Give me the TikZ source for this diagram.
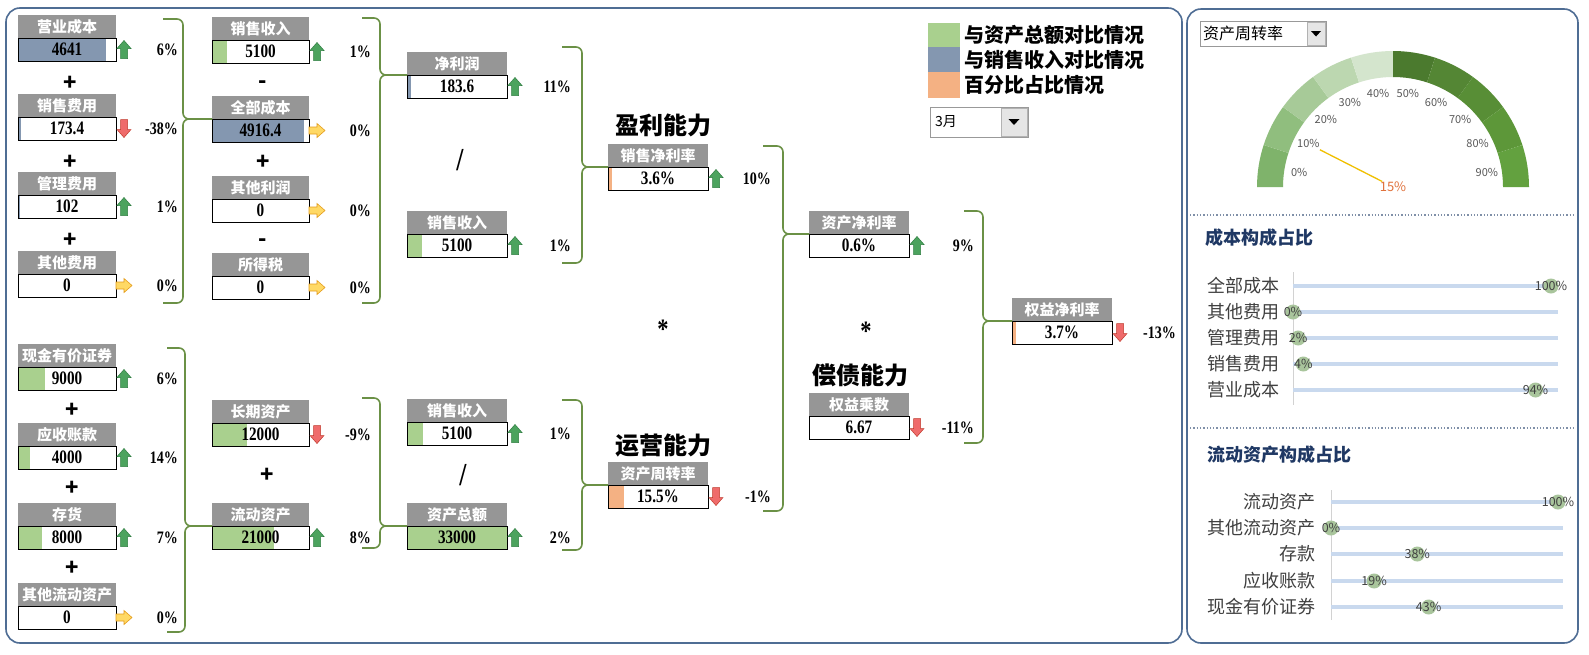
\documentclass[tikz,border=0pt]{standalone}
\usepackage{fontspec}
\newfontfamily\cjk{Noto Sans CJK SC}
\newfontfamily\numfont[FakeStretch=0.8]{Liberation Serif}
\definecolor{hdrgray}{HTML}{969696}
\definecolor{bblue}{HTML}{8497B0}
\definecolor{bgreen}{HTML}{A9D08E}
\definecolor{borange}{HTML}{F4B183}
\definecolor{brgreen}{HTML}{6B9146}
\definecolor{panel}{HTML}{4F6D94}
\definecolor{upg}{HTML}{4CA35E}
\definecolor{upd}{HTML}{2E7D40}
\definecolor{dnr}{HTML}{EF6B6B}
\definecolor{dnd}{HTML}{C0392B}
\definecolor{rty}{HTML}{FFD965}
\definecolor{rtd}{HTML}{E59C1B}
\definecolor{g0}{HTML}{7FB36B}
\definecolor{g1}{HTML}{90BE7E}
\definecolor{g2}{HTML}{A7CA98}
\definecolor{g3}{HTML}{BCD7B0}
\definecolor{g4}{HTML}{D4E5CD}
\definecolor{g5}{HTML}{4B7A2E}
\definecolor{g6}{HTML}{548634}
\definecolor{g7}{HTML}{588E36}
\definecolor{g8}{HTML}{5D9739}
\definecolor{g9}{HTML}{63A13F}
\definecolor{chline}{HTML}{C9D9EE}
\definecolor{dotc}{HTML}{A9C59C}
\definecolor{ttl}{HTML}{1F3864}
\definecolor{lbl}{HTML}{404040}
\definecolor{glbl}{HTML}{595959}
\definecolor{needlec}{HTML}{F0C000}
\definecolor{otext}{HTML}{E0703A}
\definecolor{sepc}{HTML}{8090A8}
\tikzset{
  hdr/.style={fill=hdrgray,text=white,anchor=north west,minimum height=23pt,inner sep=0pt,outer sep=0pt,font=\cjk\bfseries\fontsize{15}{15}\selectfont},
  val/.style={draw=black,line width=0.8pt,anchor=north west,minimum height=23pt,inner sep=0pt,outer sep=0pt,font=\numfont\bfseries\fontsize{19}{19}\selectfont},
  pct/.style={inner sep=0pt,font=\numfont\bfseries\fontsize{17.5}{17.5}\selectfont},
  optxt/.style={inner sep=0pt,font=\cjk\bfseries\fontsize{22}{22}\selectfont},
  slash/.style={inner sep=0pt,font=\numfont\bfseries\fontsize{32}{32}\selectfont},
  astx/.style={inner sep=0pt,font=\numfont\bfseries\fontsize{28}{28}\selectfont},
  captxt/.style={inner sep=0pt,font=\cjk\bfseries\fontsize{24}{24}\selectfont},
  legtxt/.style={inner sep=0pt,anchor=west,font=\cjk\bfseries\fontsize{20}{20}\selectfont},
  brace/.style={draw=brgreen,line width=1.6pt,rounded corners=6pt},
  panelbox/.style={draw=panel,line width=1.6pt,rounded corners=14pt},
  sepline/.style={draw=sepc,line width=1.3pt,dotted},
  ctitle/.style={inner sep=0pt,anchor=west,text=ttl,font=\cjk\bfseries\fontsize{18}{18}\selectfont},
  clabel/.style={inner sep=0pt,anchor=east,text=lbl,font=\cjk\fontsize{18}{18}\selectfont},
  cline/.style={draw=chline,line width=3.5pt},
  cdot/.style={fill=dotc},
  cdtxt/.style={inner sep=0pt,text=lbl,font=\cjk\fontsize{12.5}{12.5}\selectfont},
  gtxt/.style={inner sep=0pt,text=glbl,font=\cjk\fontsize{11}{11}\selectfont},
  upar/.pic={\draw[fill=upg,draw=upd,line width=0.5pt] (0,-9) -- (7,-1) -- (3.5,-1) -- (3.5,9) -- (-3.5,9) -- (-3.5,-1) -- (-7,-1) -- cycle;},
  dnar/.pic={\draw[fill=dnr,draw=dnd,line width=0.5pt] (0,9) -- (7,1) -- (3.5,1) -- (3.5,-9) -- (-3.5,-9) -- (-3.5,1) -- (-7,1) -- cycle;},
  rtar/.pic={\draw[fill=rty,draw=rtd,line width=0.6pt] (8,0) -- (0,-7) -- (0,-3.5) -- (-8,-3.5) -- (-8,3.5) -- (0,3.5) -- (0,7) -- cycle;}
}
% name, x, y, width, title, value, bar width, bar colour
\newcommand\kbox[8]{%
  \fill[#8] ({#2},{#3+23}) rectangle ({#2+#7},{#3+46});
  \node[hdr,minimum width=#4pt] (#1h) at (#2,#3) {#5};
  \node[val,minimum width=#4pt] (#1v) at (#1h.south west) {#6};
}
% name, arrow pic, percent, right edge x
\newcommand\kind[4]{%
  \pic at ([xshift=8pt]#1v.east) {#2};
  \node[pct,anchor=east] (#1p) at (#4,0 |- #1v.east) {#3};
}
\begin{document}
\begin{tikzpicture}[x=1pt,y=-1pt]
\useasboundingbox (0,0) rectangle (1589,654);
\fill[white] (0,0) rectangle (1589,654);
\draw[panelbox] (6,8) rectangle (1182,643);
\draw[panelbox] (1187,9) rectangle (1578,643);

% column 1
\kbox{a1}{18}{15}{98}{营业成本}{4641}{88}{bblue}
\kind{a1}{upar}{6\%}{178}
\kbox{a2}{18}{94}{98}{销售费用}{173.4}{3.3}{bblue}
\kind{a2}{dnar}{-38\%}{178}
\kbox{a3}{18}{172}{98}{管理费用}{102}{2}{bblue}
\kind{a3}{upar}{1\%}{178}
\kbox{a4}{18}{251}{98}{其他费用}{0}{0}{white}
\kind{a4}{rtar}{0\%}{178}
\kbox{a5}{18}{344}{98}{现金有价证券}{9000}{27}{bgreen}
\kind{a5}{upar}{6\%}{178}
\kbox{a6}{18}{423}{98}{应收账款}{4000}{12}{bgreen}
\kind{a6}{upar}{14\%}{178}
\kbox{a7}{18}{503}{98}{存货}{8000}{24}{bgreen}
\kind{a7}{upar}{7\%}{178}
\kbox{a8}{18}{583}{98}{其他流动资产}{0}{0}{white}
\kind{a8}{rtar}{0\%}{178}

% column 2
\kbox{b1}{212}{17}{97}{销售收入}{5100}{15}{bgreen}
\kind{b1}{upar}{1\%}{371}
\kbox{b2}{212}{96}{97}{全部成本}{4916.4}{92}{bblue}
\kind{b2}{rtar}{0\%}{371}
\kbox{b3}{212}{176}{97}{其他利润}{0}{0}{white}
\kind{b3}{rtar}{0\%}{371}
\kbox{b4}{212}{253}{97}{所得税}{0}{0}{white}
\kind{b4}{rtar}{0\%}{371}
\kbox{b5}{212}{400}{97}{长期资产}{12000}{35}{bgreen}
\kind{b5}{dnar}{-9\%}{371}
\kbox{b6}{212}{503}{97}{流动资产}{21000}{62}{bgreen}
\kind{b6}{upar}{8\%}{371}

% column 3
\kbox{c1}{407}{52}{100}{净利润}{183.6}{3.5}{bblue}
\kind{c1}{upar}{11\%}{571}
\kbox{c2}{407}{211}{100}{销售收入}{5100}{15}{bgreen}
\kind{c2}{upar}{1\%}{571}
\kbox{c3}{407}{399}{100}{销售收入}{5100}{16}{bgreen}
\kind{c3}{upar}{1\%}{571}
\kbox{c4}{407}{503}{100}{资产总额}{33000}{100}{bgreen}
\kind{c4}{upar}{2\%}{571}

% column 4
\kbox{d1}{608}{144}{100}{销售净利率}{3.6\%}{3.6}{borange}
\kind{d1}{upar}{10\%}{771}
\kbox{d2}{608}{462}{100}{资产周转率}{15.5\%}{15.5}{borange}
\kind{d2}{dnar}{-1\%}{771}

% column 5
\kbox{e1}{809}{211}{100}{资产净利率}{0.6\%}{0.8}{borange}
\kind{e1}{upar}{9\%}{974}
\kbox{e2}{809}{393}{100}{权益乘数}{6.67}{0}{white}
\kind{e2}{dnar}{-11\%}{974}

% column 6
\kbox{f1}{1012}{298}{100}{权益净利率}{3.7\%}{3.7}{borange}
\kind{f1}{dnar}{-13\%}{1176}

% operators
\node[optxt] (o1) at (70,83) {+};
\node[optxt] (o2) at (70,162) {+};
\node[optxt] (o3) at (70,240) {+};
\node[optxt] (o4) at (72,410) {+};
\node[optxt] (o5) at (72,488) {+};
\node[optxt] (o6) at (72,568) {+};
\node[optxt] (o7) at (263,85) {-};
\node[optxt] (o8) at (263,162) {+};
\node[optxt] (o9) at (263,243) {-};
\node[optxt] (o10) at (267,475) {+};
\node[slash] (o11) at (460,160) {/};
\node[slash] (o12) at (463,475) {/};
\node[astx] (o13) at (663,329) {*};
\node[astx] (o14) at (866,331) {*};

% captions
\node[captxt] (t1) at (663,125) {盈利能力};
\node[captxt] (t2) at (663,446) {运营能力};
\node[captxt] (t3) at (860,375) {偿债能力};

% braces
\draw[brace] (163,19) -- (183,19) |- (b2h.south west);
\draw[brace] (b2h.south west) -| (183,303) -- (163,303);
\draw[brace] (362,18) -- (380,18) |- (c1h.south west);
\draw[brace] (c1h.south west) -| (380,303) -- (362,303);
\draw[brace] (562,47) -- (582,47) |- (d1h.south west);
\draw[brace] (d1h.south west) -| (582,263) -- (562,263);
\draw[brace] (763,146) -- (783,146) |- (e1h.south west);
\draw[brace] (e1h.south west) -| (783,511) -- (763,511);
\draw[brace] (964,211) -- (983,211) |- (f1h.south west);
\draw[brace] (f1h.south west) -| (983,443) -- (964,443);
\draw[brace] (167,348) -- (185,348) |- (b6h.south west);
\draw[brace] (b6h.south west) -| (185,632) -- (167,632);
\draw[brace] (362,398) -- (380,398) |- (c4h.south west);
\draw[brace] (c4h.south west) -| (380,548) -- (362,548);
\draw[brace] (562,400) -- (582,400) |- (d2h.south west);
\draw[brace] (d2h.south west) -| (582,550) -- (562,550);

% legend
\fill[bgreen] (928,23) rectangle (960,47);
\fill[bblue] (928,47) rectangle (960,72);
\fill[borange] (928,72) rectangle (960,98);
\node[legtxt] (l1) at (964,35) {与资产总额对比情况};
\node[legtxt] (l2) at (964,60) {与销售收入对比情况};
\node[legtxt] (l3) at (964,85) {百分比占比情况};

% month selector
\draw[draw=gray!80,fill=white] (930,107) rectangle (1028,137);
\draw[draw=gray!60,fill=gray!20] (1001,108) rectangle (1027,136);
\fill[black] (1008.5,119) -- (1019.5,119) -- (1014,125) -- cycle;
\node[inner sep=0pt,anchor=west,font=\cjk\fontsize{14}{14}\selectfont] (m1) at (935,122) {3月};

% right panel: selector
\draw[draw=gray!80,fill=white] (1200,21) rectangle (1326,46);
\draw[draw=gray!60,fill=gray!20] (1307,22) rectangle (1325,45);
\fill[black] (1311,31) -- (1321,31) -- (1316,36.5) -- cycle;
\node[inner sep=0pt,anchor=west,font=\cjk\fontsize{16}{16}\selectfont] (m2) at (1203,33.5) {资产周转率};

% gauge
\begin{scope}[shift={(1393,187)},y=1pt]
\foreach \k/\c in {0/g0,1/g1,2/g2,3/g3,4/g4,5/g5,6/g6,7/g7,8/g8,9/g9}{
  \pgfmathsetmacro\ga{180-18*\k}
  \pgfmathsetmacro\gb{162-18*\k}
  \fill[\c] (\ga:110) -- (\ga:136) arc[start angle=\ga,end angle=\gb,radius=136] -- (\gb:110) arc[start angle=\gb,end angle=\ga,radius=110] -- cycle;
}
\foreach \k/\t in {0/0,1/10,2/20,3/30,4/40,5/50,6/60,7/70,8/80,9/90}{
  \pgfmathsetmacro\gm{171-18*\k}
  \node[gtxt] (gl\k) at (\gm:95) {\t\%};
}
\draw[needlec,line width=1.3pt] (153:12) -- (153:82);
\node[inner sep=0pt,text=otext,font=\cjk\fontsize{13}{13}\selectfont] (g15) at (0,0) {15\%};
\end{scope}

\draw[sepline] (1190,215) -- (1573,215);
\draw[sepline] (1190,428) -- (1573,428);

% cost structure chart
\node[ctitle] (ct1) at (1205,238) {成本构成占比};
\draw[gray!35,line width=0.8pt] (1293,272) -- (1293,405);
\foreach \i/\n/\p/\y in {1/全部成本/100/286,2/其他费用/0/312,3/管理费用/2/338,4/销售费用/4/364,5/营业成本/94/390}{
  \node[clabel] (r\i) at (1280,\y) {\n};
  \draw[cline] (1293,\y) -- (1558,\y);
  \fill[cdot] ({1293+2.58*\p},\y) circle[radius=7.5];
  \node[cdtxt] (rd\i) at ({1293+2.58*\p},\y) {\p\%};
}

% current assets chart
\node[ctitle] (ct2) at (1207,455) {流动资产构成占比};
\draw[gray!35,line width=0.8pt] (1331,490) -- (1331,620);
\foreach \i/\n/\p/\y in {1/流动资产/100/502,2/其他流动资产/0/528,3/存款/38/554,4/应收账款/19/581,5/现金有价证券/43/607}{
  \node[clabel] (s\i) at (1316,\y) {\n};
  \draw[cline] (1331,\y) -- (1563,\y);
  \fill[cdot] ({1331+2.27*\p},\y) circle[radius=7.5];
  \node[cdtxt] (sd\i) at ({1331+2.27*\p},\y) {\p\%};
}
\end{tikzpicture}
\end{document}
